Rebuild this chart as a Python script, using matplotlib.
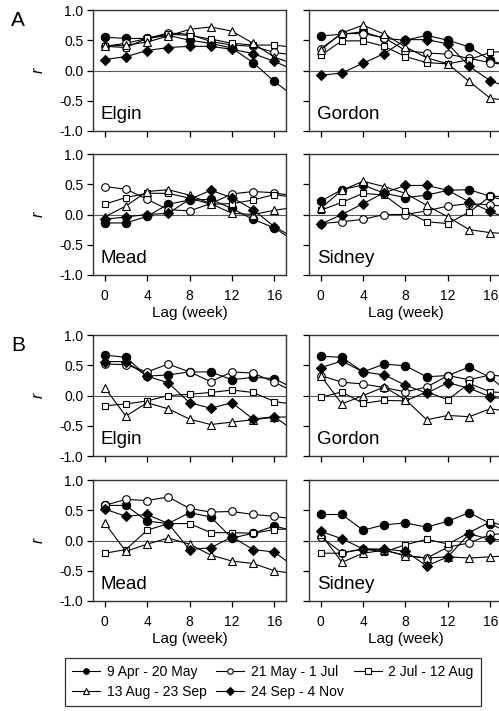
import matplotlib
matplotlib.use("Agg")
import matplotlib.pyplot as plt

plt.rcParams["font.family"] = ["Liberation Sans", "DejaVu Sans"]

# lag in weeks (the last point lies past the axis edge and gets clipped)
lags = [0, 2, 4, 6, 8, 10, 12, 14, 16, 18]

periods = ["9 Apr - 20 May", "21 May - 1 Jul", "2 Jul - 12 Aug",
           "13 Aug - 23 Sep", "24 Sep - 4 Nov"]

# each panel: one list per period, same order as `periods`
elgin_a = [
    [0.55, 0.53, 0.53, 0.58, 0.50, 0.45, 0.37, 0.13, -0.18, -0.45],
    [0.40, 0.45, 0.53, 0.62, 0.60, 0.48, 0.42, 0.40, 0.30, 0.25],
    [0.40, 0.38, 0.53, 0.60, 0.58, 0.52, 0.45, 0.42, 0.42, 0.38],
    [0.40, 0.42, 0.47, 0.57, 0.68, 0.72, 0.65, 0.45, 0.22, 0.10],
    [0.18, 0.23, 0.33, 0.38, 0.40, 0.40, 0.35, 0.28, 0.15, 0.00],
]
gordon_a = [
    [0.57, 0.60, 0.64, 0.53, 0.50, 0.58, 0.50, 0.39, 0.17, 0.05],
    [0.36, 0.61, 0.61, 0.54, 0.33, 0.29, 0.27, 0.20, 0.13, 0.08],
    [0.25, 0.49, 0.49, 0.40, 0.23, 0.13, 0.11, 0.18, 0.30, 0.32],
    [0.34, 0.62, 0.75, 0.60, 0.39, 0.21, 0.11, -0.18, -0.46, -0.50],
    [-0.08, -0.04, 0.12, 0.28, 0.51, 0.51, 0.44, 0.07, -0.17, -0.30],
]
mead_a = [
    [-0.14, -0.14, -0.03, 0.17, 0.24, 0.25, 0.10, -0.08, -0.22, -0.45],
    [0.46, 0.42, 0.25, 0.08, 0.06, 0.18, 0.34, 0.38, 0.36, 0.30],
    [0.17, 0.28, 0.35, 0.35, 0.27, 0.17, 0.18, 0.24, 0.33, 0.28],
    [-0.04, 0.14, 0.38, 0.41, 0.32, 0.18, 0.02, 0.00, 0.07, 0.12],
    [-0.08, -0.04, 0.00, 0.02, 0.25, 0.40, 0.28, 0.08, -0.20, -0.40],
]
sidney_a = [
    [0.22, 0.41, 0.49, 0.35, 0.28, 0.32, 0.40, 0.41, 0.30, 0.20],
    [-0.15, -0.12, -0.08, 0.00, 0.00, 0.06, 0.14, 0.18, 0.16, 0.12],
    [0.07, 0.20, 0.35, 0.32, 0.06, -0.12, -0.15, 0.04, 0.30, 0.30],
    [0.10, 0.40, 0.55, 0.46, 0.35, 0.15, -0.04, -0.25, -0.30, -0.32],
    [-0.16, 0.00, 0.18, 0.36, 0.48, 0.48, 0.40, 0.21, 0.05, -0.10],
]
elgin_b = [
    [0.67, 0.63, 0.32, 0.34, 0.39, 0.39, 0.26, 0.30, 0.28, 0.10],
    [0.52, 0.51, 0.39, 0.52, 0.39, 0.23, 0.39, 0.37, 0.22, 0.05],
    [-0.17, -0.14, -0.09, 0.00, 0.02, 0.05, 0.09, 0.05, -0.10, -0.15],
    [0.13, -0.34, -0.12, -0.22, -0.39, -0.48, -0.44, -0.40, -0.36, -0.35],
    [0.56, 0.56, 0.32, 0.21, -0.12, -0.21, -0.12, -0.39, -0.35, -0.60],
]
gordon_b = [
    [0.65, 0.63, 0.39, 0.52, 0.49, 0.31, 0.33, 0.47, 0.30, 0.00],
    [0.33, 0.22, 0.19, 0.13, 0.06, 0.14, 0.33, 0.26, 0.34, 0.30],
    [-0.03, 0.06, -0.13, -0.08, -0.09, 0.06, -0.07, 0.20, 0.06, 0.04],
    [0.33, -0.14, 0.00, 0.14, -0.07, -0.40, -0.33, -0.35, -0.22, -0.27],
    [0.46, 0.57, 0.39, 0.34, 0.17, 0.04, 0.21, 0.12, -0.02, -0.08],
]
mead_b = [
    [0.58, 0.58, 0.32, 0.28, 0.46, 0.39, 0.04, 0.12, 0.24, 0.15],
    [0.58, 0.68, 0.66, 0.72, 0.53, 0.47, 0.48, 0.43, 0.40, 0.35],
    [-0.21, -0.15, 0.17, 0.28, 0.28, 0.13, 0.13, 0.12, 0.18, 0.20],
    [0.29, -0.18, -0.06, 0.04, -0.06, -0.24, -0.34, -0.38, -0.50, -0.55],
    [0.52, 0.40, 0.43, 0.28, -0.15, -0.12, 0.06, -0.15, -0.19, -0.45],
]
sidney_b = [
    [0.43, 0.43, 0.17, 0.26, 0.29, 0.22, 0.32, 0.46, 0.28, 0.10],
    [0.06, -0.20, -0.14, -0.16, -0.25, -0.29, -0.11, -0.04, 0.10, 0.12],
    [-0.21, -0.21, -0.14, -0.19, -0.07, 0.02, -0.06, 0.13, 0.31, 0.20],
    [0.11, -0.36, -0.21, -0.16, -0.25, -0.29, -0.27, -0.29, -0.27, -0.25],
    [0.15, 0.03, -0.14, -0.14, -0.18, -0.42, -0.27, 0.11, 0.02, 0.00],
]

yticks = [-1.0, -0.5, 0.0, 0.5, 1.0]
ytick_labels = ["-1.0", "-0.5", "0.0", "0.5", "1.0"]
xticks = [0, 4, 8, 12, 16]

# marker style per period: (marker, facecolor)
styles = [("o", "black"), ("o", "white"), ("s", "white"),
          ("^", "white"), ("D", "black")]
msizes = [6.0, 5.5, 5.0, 5.5, 5.0]

W, H = 499, 711
fig = plt.figure(figsize=(W / 100, H / 100), dpi=100)


def px_axes(left, top, width, height):
    return fig.add_axes([left / W, 1 - (top + height) / H, width / W, height / H])


panels = [
    (elgin_a, "Elgin", 93, 10, True, False),
    (gordon_a, "Gordon", 309, 10, False, False),
    (mead_a, "Mead", 93, 154, True, True),
    (sidney_a, "Sidney", 309, 154, False, True),
    (elgin_b, "Elgin", 93, 335, True, False),
    (gordon_b, "Gordon", 309, 335, False, False),
    (mead_b, "Mead", 93, 480, True, True),
    (sidney_b, "Sidney", 309, 480, False, True),
]

handles = []
for data, site, left, top, show_y, show_x in panels:
    ax = px_axes(left, top, 193, 121)
    ax.axhline(0, color="0.35", lw=0.8, zorder=1)
    hs = []
    for series, (mk, fc), ms in zip(data, styles, msizes):
        h, = ax.plot(lags, series, color="black", lw=0.8, marker=mk,
                     markerfacecolor=fc, markeredgecolor="black",
                     markeredgewidth=0.8, markersize=ms, zorder=3)
        hs.append(h)
    handles = hs
    ax.set_xlim(-1.1, 17.1)
    ax.set_ylim(-1.0, 1.0)
    ax.set_xticks(xticks)
    ax.set_yticks(yticks)
    ax.tick_params(direction="out", length=4, width=0.9, labelsize=10,
                   colors="black")
    ax.tick_params(axis="x", pad=6)
    ax.tick_params(axis="y", pad=3)
    if show_y:
        ax.set_yticklabels(ytick_labels)
        ax.set_ylabel("r", style="italic", fontsize=11.5, labelpad=10)
    else:
        ax.set_yticklabels([])
    if show_x:
        ax.set_xticklabels([str(t) for t in xticks])
        ax.set_xlabel("Lag (week)", fontsize=11, labelpad=2)
    else:
        ax.set_xticklabels([])
    for sp in ax.spines.values():
        sp.set_color("0.2")
        sp.set_linewidth(1.0)
    ax.text(0.04, 0.07, site, transform=ax.transAxes, fontsize=13.5,
            ha="left", va="bottom")

fig.text(18 / W, 1 - 20 / H, "A", fontsize=15, ha="center", va="center")
fig.text(18 / W, 1 - 345 / H, "B", fontsize=15, ha="center", va="center")

# reorder so the legend reads row by row
order = [0, 3, 1, 4, 2]
leg = fig.legend([handles[i] for i in order], [periods[i] for i in order],
                 loc="center", bbox_to_anchor=(273 / W, 1 - 682 / H),
                 ncol=3, fontsize=10, frameon=True, fancybox=False,
                 edgecolor="black", handlelength=2.0, handletextpad=0.5,
                 columnspacing=0.7, borderpad=0.5, labelspacing=0.45)
leg.get_frame().set_linewidth(0.9)
for h in leg.legend_handles:
    h.set_markersize(4)

fig.savefig("out.png", dpi=100)
